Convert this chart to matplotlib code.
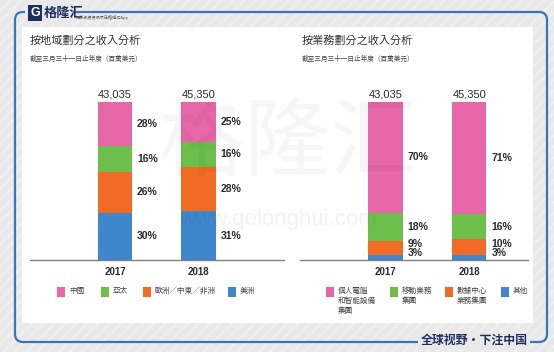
import matplotlib.pyplot as plt
import numpy as np
from matplotlib.patches import FancyBboxPatch, Rectangle
from matplotlib.transforms import IdentityTransform

plt.rcParams["font.family"] = ["Liberation Sans", "Noto Sans CJK TC", "DejaVu Sans"]
plt.rcParams["hatch.linewidth"] = 1.5

W, H = 554, 352

# %% data
years = ["2017", "2018"]
totals = [43035, 45350]

# by region, bottom -> top of each bar (%)
americas = [30, 31]
emea = [26, 28]
apac = [16, 16]
china = [28, 25]
region_labels = ["中國", "亞太", "歐洲／中東／非洲", "美洲"]

# by business group, bottom -> top (%)
other = [3, 3]
dcg = [9, 10]
mbg = [18, 16]
pcsd = [70, 71]
business_labels = ["個人電腦\n和智能設備\n集團", "移動業務\n集團", "數據中心\n業務集團", "其他"]

colors = ["#3f87cc", "#f26b25", "#6bbf4a", "#e867a9"]  # bottom -> top
txt_color = "#2b2b2b"
navy = "#1d2f5e"
border_blue = "#3b74bb"
bg_gray = "#e9e9e9"


def px(x, y):
    """pixel coords from top-left -> figure fraction"""
    return x / W, 1 - y / H


def label_positions(shares, first_min=4.5, gap=5.5):
    ys, base, prev = [], 0, None
    for s in shares:
        c = base + s / 2
        y = max(c, first_min) if prev is None else max(c, prev + gap)
        ys.append(y)
        prev = y
        base += s
    return ys


def draw_panel(ax, series, xlim):
    x = np.arange(len(years))
    bottom = np.zeros(len(years))
    for vals, color in zip(series, colors):
        ax.bar(x, vals, bottom=bottom, width=0.41, color=color, zorder=2)
        bottom += np.array(vals)
    for i in x:
        ys = label_positions([s[i] for s in series])
        for s, y in zip(series, ys):
            ax.annotate(f"{s[i]}%", (i + 0.205, y), xytext=(3.6, 0),
                        textcoords="offset points", va="center", ha="left",
                        fontsize=7.5, fontweight="bold", color=txt_color)
        ax.annotate(f"{totals[i]:,}", (i, 100), xytext=(0, 1.5),
                    textcoords="offset points", ha="center", va="bottom",
                    fontsize=8, color=txt_color)
    ax.set_xlim(*xlim)
    ax.set_ylim(0, 100)
    ax.set_xticks(x, years, fontsize=7, fontweight="bold", color=txt_color)
    ax.tick_params(axis="x", length=0, pad=5)
    ax.set_yticks([])
    for side in ["top", "right", "left"]:
        ax.spines[side].set_visible(False)
    ax.spines["bottom"].set_color("#808080")
    ax.spines["bottom"].set_linewidth(1.0)
    ax.patch.set_visible(False)
    ax.set_zorder(3)


fig = plt.figure(figsize=(W / 100, H / 100), dpi=100)
ident = IdentityTransform()

# background, stripes and white card
fig.add_artist(Rectangle((0, 0), W, H, transform=ident, facecolor=bg_gray,
                         hatch="///", edgecolor="#f0f0f0", lw=0, zorder=0))
fig.add_artist(Rectangle((22, H - 323), 511, 296, transform=ident,
                         facecolor="white", lw=0, zorder=0.5))
fig.add_artist(FancyBboxPatch((15, H - 342), 532, 330, transform=ident,
                              boxstyle="round,pad=0,rounding_size=8",
                              facecolor="none", edgecolor=border_blue, lw=1.6,
                              zorder=1))
# gaps in the border for logo and slogan
fig.add_artist(Rectangle((25, H - 24), 48, 24, transform=ident,
                         facecolor=bg_gray, lw=0, zorder=1.1))
fig.add_artist(Rectangle((418, H - 349), 112, 16, transform=ident,
                         facecolor=bg_gray, lw=0, zorder=1.1))

# logo
fig.add_artist(Rectangle((28, H - 21), 14, 16, transform=ident,
                         facecolor=navy, lw=0, zorder=2))
fig.text(*px(35, 13), "G", color="white", fontsize=9, fontweight="bold",
         ha="center", va="center", zorder=3)
fig.text(*px(44, 13), "格隆汇", color=navy, fontsize=9.5, fontweight="bold",
         ha="left", va="center", family=["Noto Sans CJK SC"], zorder=3)
fig.text(*px(76, 17.5), "更多投资资讯尽在格隆汇App", color="#555", fontsize=3,
         ha="left", va="center", family=["Noto Sans CJK SC"], zorder=3)

# slogan
fig.text(*px(474, 340), "全球视野・下注中国", color=navy, fontsize=8.6,
         fontweight="bold", ha="center", va="center",
         family=["Noto Sans CJK SC"], zorder=3)

# titles
sub = "截至三月三十一日止年度（百萬美元）"
fig.text(*px(30, 41), "按地域劃分之收入分析", fontsize=8, color="#333",
         ha="left", va="center")
fig.text(*px(30, 59), sub, fontsize=4.8, color="#444", ha="left", va="center")
fig.text(*px(302, 41), "按業務劃分之收入分析", fontsize=8, color="#333",
         ha="left", va="center")
fig.text(*px(302, 59), sub, fontsize=4.8, color="#444", ha="left", va="center")

# charts
ax1 = fig.add_axes([30 / W, 92 / H, 254 / W, 158 / H])
draw_panel(ax1, [americas, emea, apac, china], (-1.018, 2.024))
ax2 = fig.add_axes([300 / W, 92 / H, 228 / W, 158 / H])
draw_panel(ax2, [other, dcg, mbg, pcsd], (-1.018, 1.70))

# legends (top segment first)
for xs, labels in [([57, 101, 143, 228], region_labels),
                   ([326, 390, 445, 501], business_labels)]:
    for x0, lab, col in zip(xs, labels, colors[::-1]):
        fig.add_artist(Rectangle((x0, H - 297), 8, 10, transform=ident,
                                 facecolor=col, lw=0, zorder=2))
        fig.text(*px(x0 + 12, 287.5), lab, fontsize=5.5, color="#444",
                 ha="left", va="top", linespacing=1.45, zorder=3)

# watermark
fig.text(*px(288, 145), "格隆汇", fontsize=62, color="#000", alpha=0.035,
         ha="center", va="center", family=["Noto Sans CJK SC"], zorder=5)
fig.text(*px(278, 220), "www.gelonghui.com", fontsize=16, color="#000",
         alpha=0.05, ha="center", va="center", zorder=5)

fig.savefig("out.png", dpi=100)
